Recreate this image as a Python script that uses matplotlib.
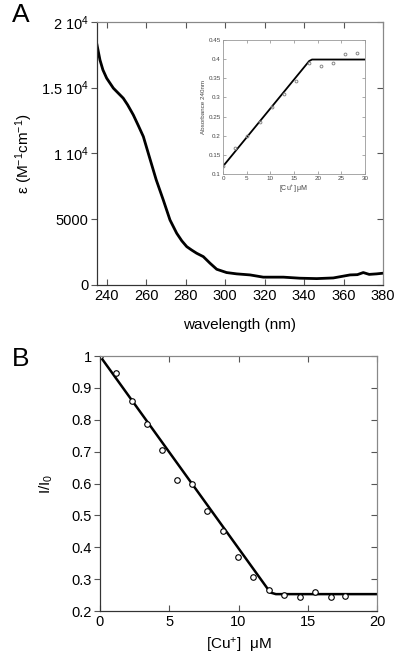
import numpy as np
import matplotlib
matplotlib.use('Agg')
import matplotlib.pyplot as plt

plt.rcParams['font.family'] = ['Liberation Sans', 'DejaVu Sans']
plt.rcParams['mathtext.fontset'] = 'custom'
plt.rcParams['mathtext.rm'] = 'Liberation Sans'
plt.rcParams['mathtext.it'] = 'Liberation Sans'

# panel A: absorption spectrum
wl = [235, 236.5, 238, 239.9, 243.3, 248.3, 250.5, 253.4, 256, 258.5, 261.5,
      265, 268.6, 272, 275.4, 278, 280.5, 283, 285.5, 288.9, 292.3, 295.7,
      300.7, 305.8, 312.6, 319.3, 329.5, 337.9, 346.4, 354.8, 363.3, 367,
      370, 373, 376.8, 380]
eps = [18250, 17110, 16350, 15720, 14960, 14200, 13700, 12930, 12100, 11280,
       9760, 8000, 6460, 4940, 3930, 3350, 2910, 2650, 2410, 2150, 1650, 1190,
       940, 840, 760, 590, 590, 510, 480, 530, 760, 780, 940, 800, 840, 890]

# inset: absorbance at 240 nm
cu_ins = [0, 2.6, 5.1, 7.9, 10.3, 12.8, 15.5, 18.1, 20.7, 23.2, 25.8, 28.3]
abs_ins = [0.12, 0.168, 0.198, 0.235, 0.276, 0.308, 0.344, 0.391, 0.383, 0.391, 0.413, 0.415]
fit_ins_x = [0, 18.2, 18.8, 30]
fit_ins_y = [0.12, 0.395, 0.399, 0.399]

# panel B: fluorescence quenching
cu_b = [0, 1.16, 2.29, 3.37, 4.5, 5.54, 6.62, 7.75, 8.86, 9.99, 11.07, 12.2,
        13.3, 14.44, 15.52, 16.65, 17.69]
ii0 = [1.0, 0.948, 0.859, 0.786, 0.705, 0.61, 0.598, 0.514, 0.452, 0.371, 0.307,
       0.266, 0.251, 0.245, 0.261, 0.245, 0.247]
fit_b_x = [0, 12.3, 12.7, 20]
fit_b_y = [1.0, 0.258, 0.253, 0.253]

fig = plt.figure(figsize=(4.0, 6.58), dpi=100)


def style(ax, size, yticks):
    ax.tick_params(axis='x', direction='in', top=True, labelsize=size, length=4,
                   pad=3, color='#555555')
    ax.tick_params(axis='y', direction='out', right=False, labelsize=size,
                   length=4, pad=2, color='#555555')
    tw = ax.twinx()
    tw.set_ylim(ax.get_ylim())
    tw.set_yticks(yticks)
    tw.tick_params(axis='y', direction='in', length=4, labelright=False,
                   color='#555555')
    for a in (ax, tw):
        a.spines['left'].set_color('#333333')
        a.spines['bottom'].set_color('#333333')
        a.spines['top'].set_color('#888888')
        a.spines['right'].set_color('#888888')


axA = fig.add_axes([0.2425, 0.567, 0.715, 0.3997])
axA.plot(wl, eps, color='black', lw=2)
axA.set_xlim(235, 380)
axA.set_ylim(0, 20000)
axA.set_xticks(np.arange(240, 381, 20))
axA.set_yticks([0, 5000, 10000, 15000, 20000])
axA.set_yticklabels(['0', '5000', '1 10$^4$', '1.5 10$^4$', '2 10$^4$'])
style(axA, 10.5, [0, 5000, 10000, 15000, 20000])
axA.set_xlabel('wavelength (nm)', fontsize=11, labelpad=11)
axA.set_ylabel('ε (M$^{-1}$cm$^{-1}$)', fontsize=11, labelpad=4)
fig.text(0.03, 0.977, 'A', fontsize=19, va='center')

ins = fig.add_axes([0.5575, 0.7356, 0.355, 0.2036])
ins.plot(fit_ins_x, fit_ins_y, color='black', lw=1.3)
ins.plot(cu_ins, abs_ins, 'o', ms=2, mfc='none', mec='#888888', mew=0.7)
ins.set_xlim(0, 30)
ins.set_ylim(0.1, 0.45)
ins.set_xticks(np.arange(0, 31, 5))
ins.set_yticks(np.arange(0.1, 0.46, 0.05))
ins.set_yticklabels(['0.1', '0.15', '0.2', '0.25', '0.3', '0.35', '0.4', '0.45'])
ins.tick_params(direction='in', top=True, right=True, labelsize=4.5, length=2,
                pad=1.5, color='#888888', labelcolor='#444444', width=0.5)
for s in ins.spines.values():
    s.set_color('#999999')
    s.set_linewidth(0.6)
ins.set_xlabel('[Cu$^{+}$] μM', fontsize=5, labelpad=1.5, color='#444444')
ins.set_ylabel('Absorbance 240nm', fontsize=4.5, labelpad=2, color='#444444')

axB = fig.add_axes([0.25, 0.0714, 0.6925, 0.3875])
axB.plot(fit_b_x, fit_b_y, color='black', lw=1.8)
axB.plot(cu_b, ii0, 'o', ms=4, mfc='white', mec='black', mew=0.8)
axB.set_xlim(0, 20)
axB.set_ylim(0.2, 1.0)
axB.set_xticks([0, 5, 10, 15, 20])
axB.set_yticks(np.arange(0.2, 1.01, 0.1))
axB.set_yticklabels(['0.2', '0.3', '0.4', '0.5', '0.6', '0.7', '0.8', '0.9', '1'])
style(axB, 10.5, np.arange(0.2, 1.01, 0.1))
axB.set_xlabel('[Cu$^{+}$]  μM', fontsize=11, labelpad=5)
axB.set_ylabel('I/I$_0$', fontsize=11, labelpad=12)
fig.text(0.03, 0.455, 'B', fontsize=19, va='center')

fig.savefig('out.png', dpi=100)
